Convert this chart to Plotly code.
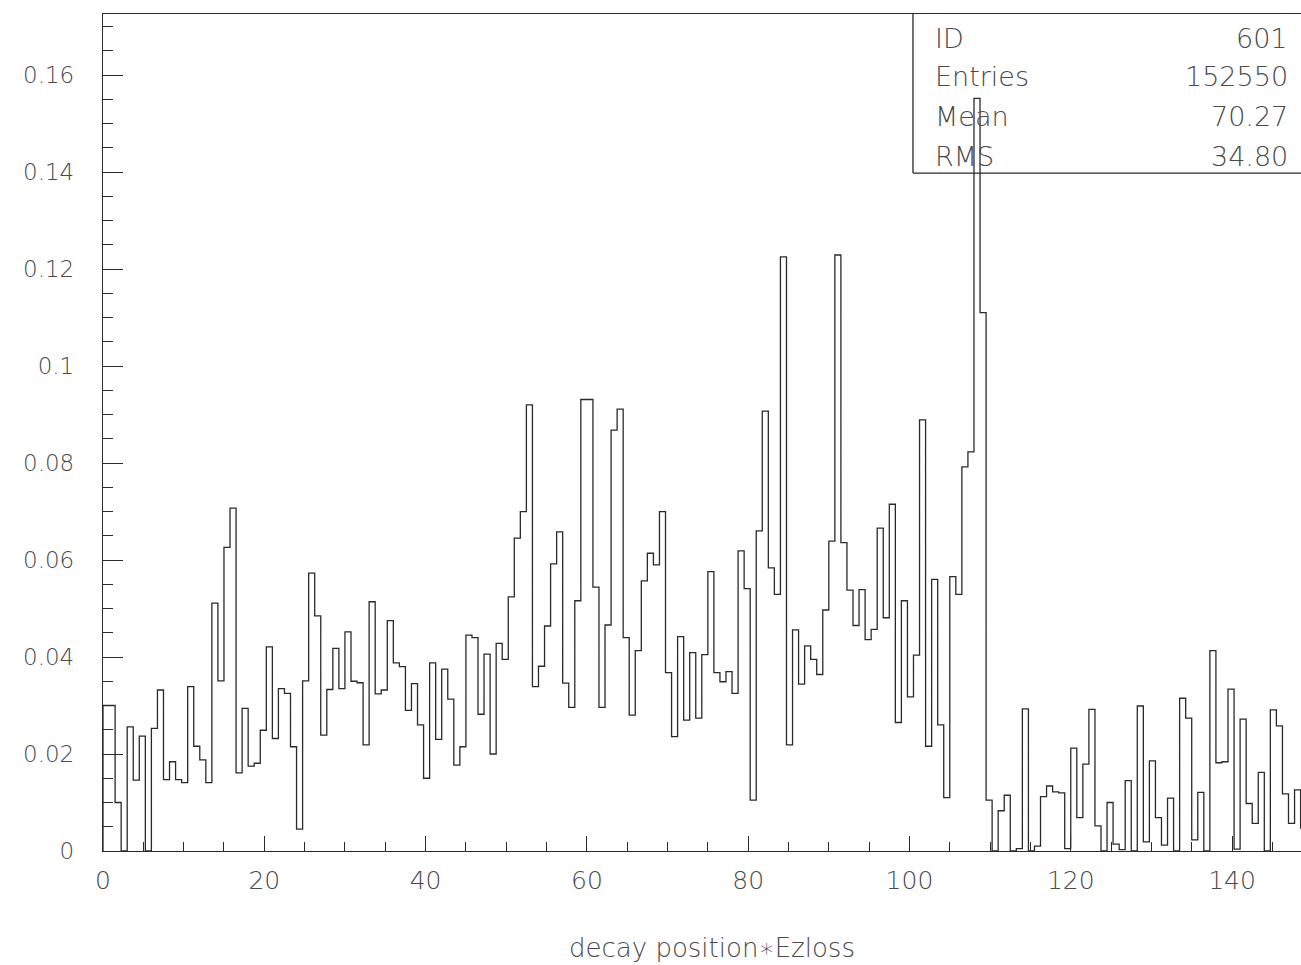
import numpy as np
import plotly.graph_objects as go

# Histogram 601: decay position * Ezloss, 0.75-wide bins starting at 0
BIN_WIDTH = 0.75
counts = [
    0.0300, 0.0300, 0.0100, 0.0000, 0.0256, 0.0146, 0.0237, 0.0000, 0.0253, 0.0332,
    0.0147, 0.0184, 0.0147, 0.0141, 0.0339, 0.0216, 0.0188, 0.0141, 0.0511, 0.0351,
    0.0626, 0.0707, 0.0161, 0.0294, 0.0175, 0.0181, 0.0249, 0.0421, 0.0232, 0.0335,
    0.0325, 0.0215, 0.0045, 0.0351, 0.0573, 0.0485, 0.0239, 0.0333, 0.0418, 0.0335,
    0.0452, 0.0350, 0.0347, 0.0219, 0.0514, 0.0324, 0.0332, 0.0475, 0.0388, 0.0380,
    0.0290, 0.0345, 0.0260, 0.0150, 0.0388, 0.0230, 0.0375, 0.0313, 0.0177, 0.0215,
    0.0445, 0.0440, 0.0282, 0.0406, 0.0200, 0.0428, 0.0395, 0.0524, 0.0645, 0.0700,
    0.0920, 0.0339, 0.0381, 0.0464, 0.0592, 0.0658, 0.0346, 0.0296, 0.0516, 0.0931,
    0.0931, 0.0544, 0.0296, 0.0466, 0.0868, 0.0911, 0.0440, 0.0280, 0.0413, 0.0557,
    0.0614, 0.0590, 0.0700, 0.0368, 0.0236, 0.0442, 0.0270, 0.0409, 0.0274, 0.0405,
    0.0576, 0.0368, 0.0349, 0.0370, 0.0325, 0.0619, 0.0541, 0.0105, 0.0660, 0.0907,
    0.0584, 0.0529, 0.1225, 0.0219, 0.0456, 0.0344, 0.0423, 0.0395, 0.0364, 0.0497,
    0.0639, 0.1229, 0.0636, 0.0538, 0.0465, 0.0539, 0.0436, 0.0457, 0.0666, 0.0481,
    0.0715, 0.0265, 0.0516, 0.0318, 0.0404, 0.0889, 0.0216, 0.0560, 0.0260, 0.0110,
    0.0566, 0.0529, 0.0792, 0.0823, 0.1552, 0.1110, 0.0105, 0.0000, 0.0083, 0.0115,
    0.0000, 0.0005, 0.0293, 0.0000, 0.0010, 0.0112, 0.0134, 0.0122, 0.0120, 0.0005,
    0.0212, 0.0069, 0.0179, 0.0292, 0.0052, 0.0000, 0.0100, 0.0014, 0.0003, 0.0145,
    0.0000, 0.0299, 0.0019, 0.0186, 0.0069, 0.0012, 0.0109, 0.0000, 0.0315, 0.0274,
    0.0023, 0.0121, 0.0000, 0.0413, 0.0182, 0.0184, 0.0334, 0.0004, 0.0272, 0.0098,
    0.0057, 0.0162, 0.0000, 0.0291, 0.0258, 0.0118, 0.0057, 0.0126, 0.0047,
]

x_tick_vals = [0, 20, 40, 60, 80, 100, 120, 140]
y_tick_vals = [0, 0.02, 0.04, 0.06, 0.08, 0.10, 0.12, 0.14, 0.16]
y_tick_text = ["0", "0.02", "0.04", "0.06", "0.08", "0.1", "0.12", "0.14", "0.16"]

stats_labels = ["ID", "Entries", "Mean", "RMS"]
stats_values = ["601", "152550", "70.27", "34.80"]
x_title = "decay position\u2217Ezloss"

X_MAX = 148.55
Y_MAX = 0.1726

# step outline: rise from zero, one flat step per bin, drop back to zero
edges = np.arange(len(counts) + 1) * BIN_WIDTH
xs = np.concatenate([[0.0], edges, [edges[-1]]])
ys = np.concatenate([[0.0], counts, [counts[-1], 0.0]])

LINE = "#2a2a2a"
TEXT = "#4a4a4a"
FONT = "DejaVu Sans"

fig = go.Figure()
fig.add_trace(go.Scatter(
    x=xs, y=ys, mode="lines",
    line=dict(shape="hv", color=LINE, width=1.3),
    hoverinfo="skip", showlegend=False,
))

fig.update_xaxes(
    range=[0, X_MAX], showgrid=False, zeroline=False,
    showline=True, linecolor=LINE, linewidth=1.3, mirror=True,
    ticks="inside", ticklen=15, tickwidth=1.2, tickcolor=LINE,
    tickvals=x_tick_vals,
    tickfont=dict(family=FONT, size=25, color=TEXT, weight=200),
    ticklabelstandoff=7,
    minor=dict(ticks="inside", dtick=5, ticklen=9, tickwidth=1.2,
               tickcolor=LINE, showgrid=False),
)
fig.update_yaxes(
    range=[0, Y_MAX], showgrid=False, zeroline=False,
    showline=True, linecolor=LINE, linewidth=1.3, mirror=False,
    ticks="inside", ticklen=20, tickwidth=1.2, tickcolor=LINE,
    tickvals=y_tick_vals, ticktext=y_tick_text,
    tickfont=dict(family=FONT, size=23, color=TEXT, weight=200),
    ticklabelstandoff=23,
    minor=dict(ticks="inside", dtick=0.005, ticklen=10, tickwidth=1.2,
               tickcolor=LINE, showgrid=False),
)

# statistics box in the upper right corner
box_x0, box_y0 = 0.6761, 0.8100
fig.add_shape(type="line", xref="paper", yref="paper",
              x0=box_x0, x1=box_x0, y0=box_y0, y1=1.0,
              line=dict(color=LINE, width=1.3))
fig.add_shape(type="line", xref="paper", yref="paper",
              x0=box_x0, x1=1.0, y0=box_y0, y1=box_y0,
              line=dict(color=LINE, width=1.3))

row_y = [0.9713, 0.9259, 0.8781, 0.8292]
stats_font = dict(family=FONT, size=27, color=TEXT, weight=200)
for label, value, yy in zip(stats_labels, stats_values, row_y):
    fig.add_annotation(xref="paper", yref="paper", x=0.6928, y=yy,
                       text=label, showarrow=False, xanchor="left",
                       yanchor="middle", font=stats_font)
    fig.add_annotation(xref="paper", yref="paper", x=0.9908, y=yy,
                       text=value, showarrow=False, xanchor="right",
                       yanchor="middle", font=stats_font)

fig.add_annotation(xref="paper", yref="paper", x=0.5083, y=-0.1159,
                   text=x_title, showarrow=False, xanchor="center",
                   yanchor="middle",
                   font=dict(family=FONT, size=26, color=TEXT, weight=200))

fig.update_layout(
    width=1301, height=965,
    margin=dict(l=103, r=0, t=14, b=114, autoexpand=False),
    paper_bgcolor="white", plot_bgcolor="white",
)

fig.write_html("out.html")
